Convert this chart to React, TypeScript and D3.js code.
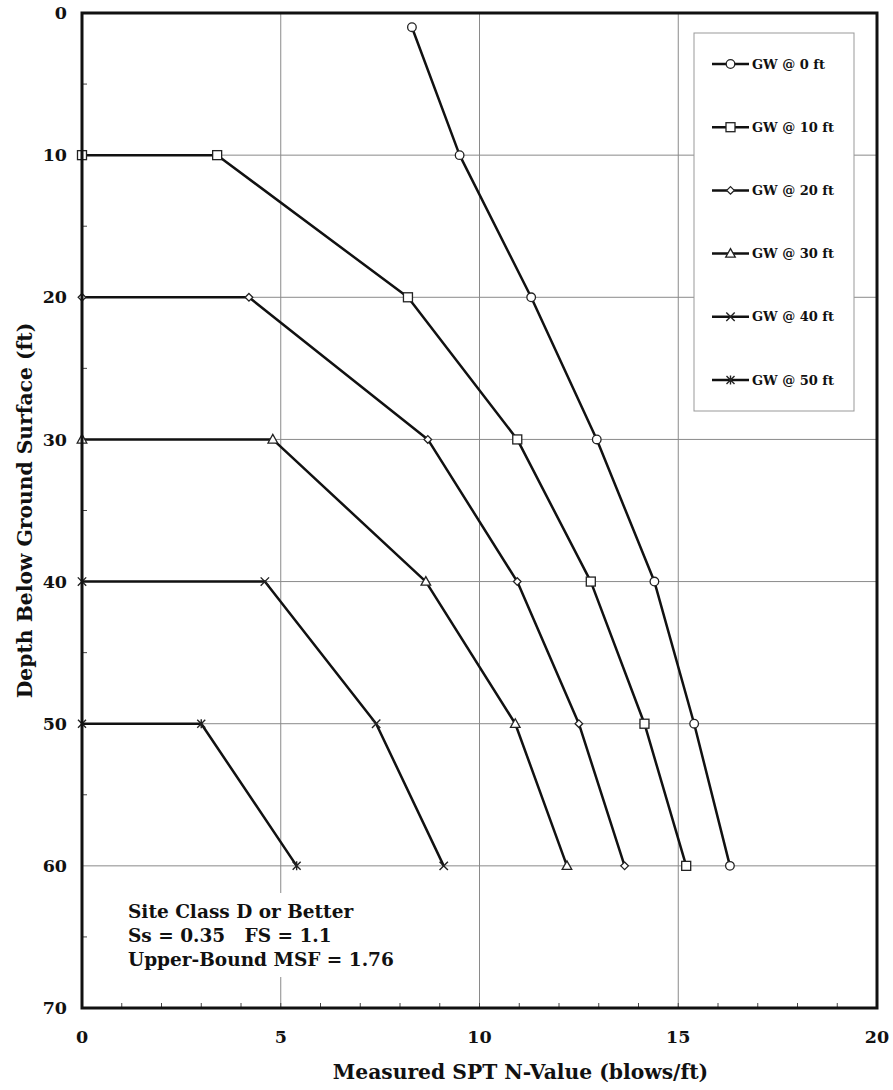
import React from "react";
import * as d3 from "d3";

const seriesNames = ["GW @ 0 ft", "GW @ 10 ft", "GW @ 20 ft", "GW @ 30 ft", "GW @ 40 ft", "GW @ 50 ft"];
const markerTypes = ["circle", "square", "diamond", "triangle", "x", "star"];

const gw0: [number, number][] = [[8.3, 1], [9.5, 10], [11.3, 20], [12.95, 30], [14.4, 40], [15.4, 50], [16.3, 60]];
const gw10: [number, number][] = [[0, 10], [3.4, 10], [8.2, 20], [10.95, 30], [12.8, 40], [14.15, 50], [15.2, 60]];
const gw20: [number, number][] = [[0, 20], [4.2, 20], [8.7, 30], [10.95, 40], [12.5, 50], [13.65, 60]];
const gw30: [number, number][] = [[0, 30], [4.8, 30], [8.65, 40], [10.9, 50], [12.2, 60]];
const gw40: [number, number][] = [[0, 40], [4.6, 40], [7.4, 50], [9.1, 60]];
const gw50: [number, number][] = [[0, 50], [3.0, 50], [5.4, 60]];
const seriesData = [gw0, gw10, gw20, gw30, gw40, gw50];

const xTicks = [0, 5, 10, 15, 20];
const yTicks = [0, 10, 20, 30, 40, 50, 60, 70];
const xMinor = d3.range(1, 20);
const yMinor = [5, 15, 25, 35, 45, 55, 65];
const xGrid = [5, 10, 15];
const yGrid = [10, 20, 30, 40, 50, 60];

const noteLines = ["Site Class D or Better", "Ss = 0.35   FS = 1.1", "Upper-Bound MSF = 1.76"];
const xTitle = "Measured SPT N-Value (blows/ft)";
const yTitle = "Depth Below Ground Surface (ft)";

const FONT = "'DejaVu Serif', serif";

function Marker({ type, cx, cy }: { type: string; cx: number; cy: number }) {
  const common = { stroke: "#222", strokeWidth: 1.3, fill: "white" };
  if (type === "circle") return <circle cx={cx} cy={cy} r={4.3} {...common} />;
  if (type === "square") return <rect x={cx - 4.5} y={cy - 4.5} width={9} height={9} {...common} />;
  if (type === "diamond")
    return <path d={`M${cx},${cy - 3.8}L${cx + 3.8},${cy}L${cx},${cy + 3.8}L${cx - 3.8},${cy}Z`} {...common} />;
  if (type === "triangle")
    return <path d={`M${cx},${cy - 5}L${cx + 4.8},${cy + 3.6}L${cx - 4.8},${cy + 3.6}Z`} {...common} />;
  if (type === "x")
    return <path d={`M${cx - 4.2},${cy - 4.2}L${cx + 4.2},${cy + 4.2}M${cx + 4.2},${cy - 4.2}L${cx - 4.2},${cy + 4.2}`} stroke="#222" strokeWidth={1.4} fill="none" />;
  return (
    <path
      d={`M${cx - 4},${cy - 4}L${cx + 4},${cy + 4}M${cx + 4},${cy - 4}L${cx - 4},${cy + 4}M${cx},${cy - 4.5}L${cx},${cy + 4.5}`}
      stroke="#222"
      strokeWidth={1.4}
      fill="none"
    />
  );
}

export default function App() {
  const W = 893, H = 1090;
  const x = d3.scaleLinear().domain([0, 20]).range([82, 877]);
  const y = d3.scaleLinear().domain([0, 70]).range([13, 1008]);
  const line = d3.line<[number, number]>().x((d) => x(d[0])).y((d) => y(d[1]));

  const legX = 694, legY = 33, legW = 160, legH = 378;
  const legStep = 63.2;

  return (
    <svg width={W} height={H} style={{ position: "absolute", left: 0, top: 0, background: "white" }} fontFamily={FONT}>
      <rect x={0} y={0} width={W} height={H} fill="white" />
      {/* grid */}
      {xGrid.map((v) => (
        <line key={"gx" + v} x1={x(v)} x2={x(v)} y1={y(0)} y2={y(70)} stroke="#8a8a8a" strokeWidth={1} />
      ))}
      {yGrid.map((v) => (
        <line key={"gy" + v} x1={x(0)} x2={x(20)} y1={y(v)} y2={y(v)} stroke="#8a8a8a" strokeWidth={1} />
      ))}
      {/* minor ticks */}
      {xMinor.map((v) => (
        <line key={"mx" + v} x1={x(v)} x2={x(v)} y1={y(70)} y2={y(70) - 5} stroke="#444" strokeWidth={1} />
      ))}
      {yMinor.map((v) => (
        <line key={"my" + v} x1={x(0)} x2={x(0) + 5} y1={y(v)} y2={y(v)} stroke="#444" strokeWidth={1} />
      ))}
      {/* note box background */}
      <rect x={120} y={893} width={285} height={84} fill="white" />
      {noteLines.map((t, i) => (
        <text key={t} x={128} y={918 + i * 24} fontSize={18.5} fontWeight="bold" fill="#111" xmlSpace="preserve">
          {t}
        </text>
      ))}
      {/* legend */}
      <rect x={legX} y={legY} width={legW} height={legH} fill="white" stroke="#999" strokeWidth={1} />
      {seriesNames.map((n, i) => {
        const ly = 64 + i * legStep;
        return (
          <g key={n}>
            <line x1={712} x2={749} y1={ly} y2={ly} stroke="#111" strokeWidth={2.5} />
            <Marker type={markerTypes[i]} cx={730.5} cy={ly} />
            <text x={752} y={ly} dy="0.35em" fontSize={13} fontWeight="bold" fill="#111">
              {n}
            </text>
          </g>
        );
      })}
      {/* series */}
      {seriesData.map((s, i) => (
        <g key={"s" + i}>
          <path d={line(s) || ""} fill="none" stroke="#111" strokeWidth={2.5} strokeLinejoin="round" />
          {s.map((p, j) => (
            <Marker key={j} type={markerTypes[i]} cx={x(p[0])} cy={y(p[1])} />
          ))}
        </g>
      ))}
      {/* frame */}
      <rect x={x(0)} y={y(0)} width={x(20) - x(0)} height={y(70) - y(0)} fill="none" stroke="#111" strokeWidth={3} />
      {/* tick labels */}
      {xTicks.map((v) => (
        <text key={"xt" + v} x={x(v)} y={1037} dy="0.35em" textAnchor="middle" fontSize={17.5} fontWeight="bold" fill="#111">
          {v}
        </text>
      ))}
      {yTicks.map((v) => (
        <text key={"yt" + v} x={67} y={y(v)} dy="0.35em" textAnchor="end" fontSize={17.5} fontWeight="bold" fill="#111">
          {v}
        </text>
      ))}
      <text x={520.5} y={1079} textAnchor="middle" fontSize={20.3} fontWeight="bold" fill="#111">
        {xTitle}
      </text>
      <text
        transform={`translate(32,${(y(0) + y(70)) / 2}) rotate(-90)`}
        textAnchor="middle"
        fontSize={20.3}
        fontWeight="bold"
        fill="#111"
      >
        {yTitle}
      </text>
    </svg>
  );
}
